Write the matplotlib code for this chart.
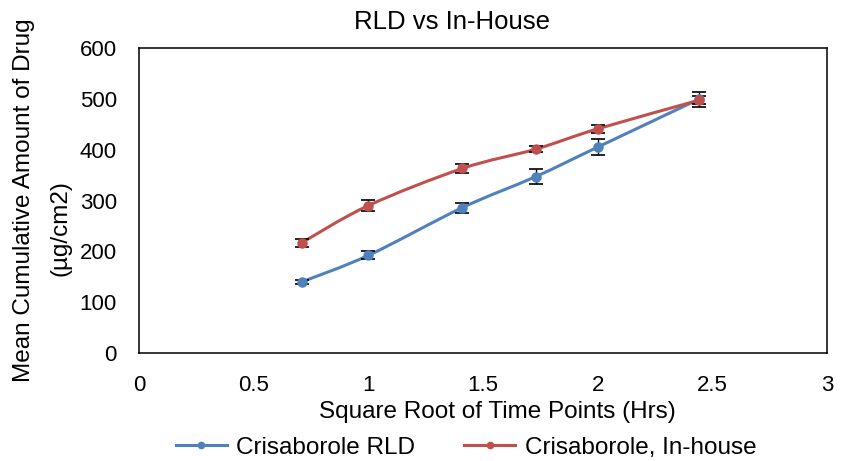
import numpy as np
import matplotlib
matplotlib.use('Agg')
import matplotlib.pyplot as plt
from matplotlib.path import Path
from matplotlib.patches import PathPatch
from matplotlib.lines import Line2D

# --- Data ---
sqrt_time = [0.71, 1.0, 1.41, 1.73, 2.0, 2.44]
rld_mean = [140, 192, 286, 347, 405, 499]
rld_err = [4, 8, 10, 14, 15, 15]
inhouse_mean = [217, 290, 363, 401, 441, 497]
inhouse_err = [8, 10, 8, 6, 8, 8]

series_names = ['Crisaborole RLD', 'Crisaborole, In-house']
colors = ['#4F81BD', '#C0504D']


def smooth_path(x, y):
    """Excel-style smoothed line: cubic Bezier through each point."""
    x = np.asarray(x, float)
    y = np.asarray(y, float)
    px = np.concatenate([[x[0]], x, [x[-1]]])
    py = np.concatenate([[y[0]], y, [y[-1]]])
    verts = [(x[0], y[0])]
    codes = [Path.MOVETO]
    for i in range(1, len(x)):
        c1 = (px[i] + (px[i + 1] - px[i - 1]) / 6, py[i] + (py[i + 1] - py[i - 1]) / 6)
        c2 = (px[i + 1] - (px[i + 2] - px[i]) / 6, py[i + 1] - (py[i + 2] - py[i]) / 6)
        verts += [c1, c2, (x[i], y[i])]
        codes += [Path.CURVE4] * 3
    return Path(verts, codes)


plt.rcParams['font.family'] = ['Liberation Sans', 'DejaVu Sans']

W, H = 846, 461
fig = plt.figure(figsize=(W / 100, H / 100), dpi=100)
ax = fig.add_axes([139 / W, 1 - 353 / H, 688 / W, 305 / H])

for xs, ys, es, col in [(sqrt_time, rld_mean, rld_err, colors[0]),
                        (sqrt_time, inhouse_mean, inhouse_err, colors[1])]:
    ax.add_patch(PathPatch(smooth_path(xs, ys), facecolor='none', edgecolor=col,
                           linewidth=2.2, zorder=2, capstyle='round'))
    ax.errorbar(xs, ys, yerr=es, fmt='none', ecolor='black', elinewidth=1,
                capsize=5, capthick=1.2, zorder=3)
    ax.plot(xs, ys, 'o', color=col, markersize=6.5, zorder=4)

ax.set_xlim(0, 3)
ax.set_ylim(0, 600)
ax.set_xticks([0, 0.5, 1, 1.5, 2, 2.5, 3])
ax.set_xticklabels(['0', '0.5', '1', '1.5', '2', '2.5', '3'])
ax.set_yticks(range(0, 601, 100))
ax.tick_params(length=0, labelsize=16)
ax.tick_params(axis='x', pad=16)
ax.tick_params(axis='y', pad=16)
for s in ax.spines.values():
    s.set_color('black')
    s.set_linewidth(1.1)

# titles placed in figure pixels
fig.text(452 / W, 1 - 22 / H, 'RLD vs In-House', fontsize=18.5, ha='center', va='center')
fig.text(497 / W, 1 - 412 / H, 'Square Root of Time Points (Hrs)', fontsize=17.5,
         ha='center', va='center')
fig.text(24 / W, 1 - 200 / H, 'Mean Cumulative Amount of Drug', fontsize=17.5,
         rotation=90, ha='center', va='center')
fig.text(60 / W, 1 - 228 / H, '(\u00b5g/cm2)', fontsize=17.5,
         rotation=90, ha='center', va='center')

handles = [Line2D([0], [0], color=c, lw=2.2, marker='o', markersize=4.5) for c in colors]
fig.legend(handles, series_names, loc='center', bbox_to_anchor=(466 / W, 1 - 448 / H),
           ncol=2, frameon=False, fontsize=17.5, handlelength=2.1,
           columnspacing=2.0, handletextpad=0.4, borderpad=0, borderaxespad=0)

fig.savefig('out.png', dpi=100)
